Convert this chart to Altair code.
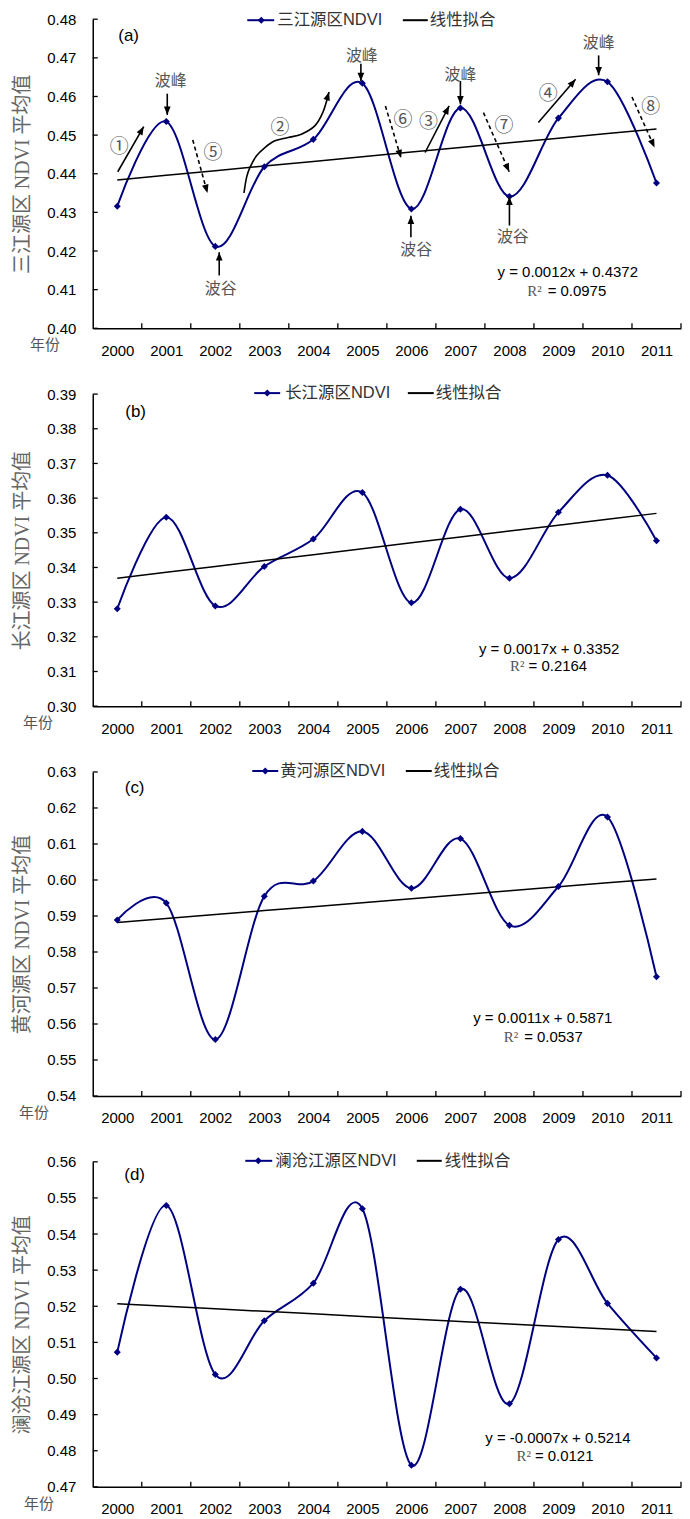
import math
import altair as alt
import pandas as pd

# ---------------- data ----------------
years = [2000, 2001, 2002, 2003, 2004, 2005, 2006, 2007, 2008, 2009, 2010, 2011]

ndvi_a = [0.4316, 0.4535, 0.4212, 0.4418, 0.4489, 0.4634, 0.4309, 0.4570, 0.4341, 0.4544, 0.4638, 0.4376]
ndvi_b = [0.3281, 0.3545, 0.3289, 0.3403, 0.3482, 0.3616, 0.3298, 0.3568, 0.3369, 0.3559, 0.3666, 0.3477]
ndvi_c = [0.5889, 0.5936, 0.5557, 0.5955, 0.5997, 0.6135, 0.5977, 0.6115, 0.5874, 0.5982, 0.6175, 0.5731]
ndvi_d = [0.5073, 0.5479, 0.5011, 0.5160, 0.5264, 0.5470, 0.4760, 0.5247, 0.4930, 0.5385, 0.5208, 0.5057]
series = [ndvi_a, ndvi_b, ndvi_c, ndvi_d]

series_names = ["三江源区NDVI", "长江源区NDVI", "黄河源区NDVI", "澜沧江源区NDVI"]
fit_name = "线性拟合"
panel_tags = ["(a)", "(b)", "(c)", "(d)"]
y_titles = ["三江源区 NDVI 平均值", "长江源区 NDVI 平均值", "黄河源区 NDVI 平均值", "澜沧江源区 NDVI 平均值"]
x_unit = "年份"

slopes = [0.0012, 0.0017, 0.0011, -0.0007]
intercepts = [0.4372, 0.3352, 0.5871, 0.5214]
eq_texts = ["y = 0.0012x + 0.4372", "y = 0.0017x + 0.3352", "y = 0.0011x + 0.5871", "y = -0.0007x + 0.5214"]
r2_label = "R²"
r2_values = ["= 0.0975", "= 0.2164", "= 0.0537", "= 0.0121"]

y_ranges = [(0.40, 0.48), (0.30, 0.39), (0.54, 0.63), (0.47, 0.56)]
tick_counts = [9, 10, 10, 10]

# equation anchors (year, value): equation centre, R² line "=" start
eq_pos = [(2009.19, 0.41453), (2008.81, 0.31639), (2008.68, 0.56160), (2008.99, 0.48353)]
r2_pos = [(2008.78, 0.40955), (2008.39, 0.31159), (2008.30, 0.55634), (2008.52, 0.47856)]

# panel (a) annotations (year, value)
peak_labels = [("波峰", 2001.09, 0.46400), ("波峰", 2004.99, 0.47045),
               ("波峰", 2007.00, 0.46555), ("波峰", 2009.82, 0.47373)]
valley_labels = [("波谷", 2002.11, 0.41025), ("波谷", 2006.10, 0.42031), ("波谷", 2008.07, 0.42356)]
circled_labels = [("①", 2000.04, 0.44697), ("⑤", 2001.95, 0.44534), ("②", 2003.32, 0.45195),
                  ("⑥", 2005.83, 0.45386), ("③", 2006.35, 0.45350), ("⑦", 2007.89, 0.45239),
                  ("④", 2008.79, 0.46057), ("⑧", 2010.88, 0.45729)]
arrows = [
    ("p1", "solid", [(2001.02, 0.46072), (2001.02, 0.45523)]),
    ("p2", "solid", [(2004.97, 0.46847), (2004.97, 0.46400)]),
    ("p3", "solid", [(2007.00, 0.46400), (2007.00, 0.45799)]),
    ("p4", "solid", [(2009.82, 0.47063), (2009.82, 0.46547)]),
    ("v1", "solid", [(2002.08, 0.41368), (2002.08, 0.41969)]),
    ("v2", "solid", [(2005.99, 0.42356), (2005.99, 0.42916)]),
    ("v3", "solid", [(2008.00, 0.42658), (2008.00, 0.43407)]),
    ("a1", "solid", [(2000.01, 0.44052), (2000.54, 0.45221)]),
    ("a5", "dashed", [(2001.54, 0.44877), (2001.84, 0.43502)]),
    ("a6", "dashed", [(2005.47, 0.45755), (2005.79, 0.44405)]),
    ("a3", "solid", [(2006.28, 0.44550), (2006.77, 0.45755)]),
    ("a7", "dashed", [(2007.47, 0.45582), (2007.995, 0.44052)]),
    ("a4", "solid", [(2008.59, 0.45324), (2009.35, 0.46444)]),
    ("a8", "dashed", [(2010.50, 0.45987), (2010.96, 0.44679)]),
    ("a2", "curve", [(2002.585, 0.43502), (2002.638, 0.43905), (2002.707, 0.44163),
                     (2002.841, 0.44465), (2003.012, 0.44679), (2003.216, 0.44852),
                     (2003.486, 0.44937), (2003.757, 0.45025), (2004.029, 0.45239),
                     (2004.198, 0.45600), (2004.320, 0.46116)]),
]

# ---------------- layout / style ----------------
BLUE = "#000080"
SANS = "Liberation Sans, Arial, sans-serif"
MIXED = "Liberation Sans, Noto Sans CJK SC, sans-serif"
TITLE_FONT = "Liberation Serif, Noto Sans CJK SC, serif"
CJK = "Noto Sans CJK SC, sans-serif"
W = 590
heights = [310, 313, 325, 326]
legend_layout = [
    dict(l1=(155, 182), d=169, t1=185, l2=(311, 336), t2=338, y=1),
    dict(l1=(162, 188), d=175, t1=193, l2=(316, 342), t2=344, y=-1),
    dict(l1=(160, 186), d=173, t1=188, l2=(314, 340), t2=342, y=-1),
    dict(l1=(153, 180), d=166, t1=183, l2=(325, 350), t2=353, y=-1),
]
tag_layout = [(36, 16.5), (43, 18), (42, 16), (42, 13.5)]
unit_layout = [-48, -55, -59, -54]
r2_dx = [-6, -4, -6, -4]
HEAD = "M0,0L0.8,2L-0.8,2Z"


def one(label):
    return alt.Chart(pd.DataFrame({"s": [label]}))


def panel(i):
    lo, hi = y_ranges[i]
    h = heights[i]
    ticks = [round(lo + 0.01 * k, 2) for k in range(tick_counts[i])]
    df = pd.DataFrame({"year": years, "ndvi": series[i],
                       "fit": [slopes[i] * (k + 1) + intercepts[i] for k in range(len(years))]})

    xaxis = alt.Axis(
        values=years, format="d", title=None, ticks=False, grid=False,
        labelPadding=15, labelFontSize=15, labelFont=SANS, labelColor="black",
        labelFlush=False, labelOverlap=False, domainColor="black", domainWidth=1.5)
    yaxis = alt.Axis(
        values=ticks, format=".2f", title=y_titles[i], ticks=False, grid=False,
        labelPadding=17, labelFontSize=15, labelFont=SANS, labelColor="black",
        labelFlush=False, labelOverlap=False, domainColor="black", domainWidth=1.5,
        titleX=-70, titleY=h / 2, titleAngle=270, titleBaseline="middle",
        titleAlign="center", titleFontSize=20, titleFont=TITLE_FONT,
        titleFontWeight="normal", titleColor="#666666")
    xsc = alt.Scale(domain=[1999.5, 2011.5], nice=False, zero=False)
    ysc = alt.Scale(domain=[lo, hi], nice=False, zero=False)
    X = lambda f: alt.X(f, scale=xsc, axis=xaxis, title=None)
    Y = lambda f: alt.Y(f, scale=ysc, axis=yaxis, title=y_titles[i])

    base = alt.Chart(df)
    curve = base.mark_line(interpolate="cardinal", color=BLUE, strokeWidth=2).encode(
        x=X("year:Q"), y=Y("ndvi:Q"))
    pts = base.mark_point(shape="diamond", filled=True, size=50, color=BLUE, opacity=1).encode(
        x=X("year:Q"), y=Y("ndvi:Q"))
    fit = base.mark_line(color="black", strokeWidth=1.5).encode(x=X("year:Q"), y=Y("fit:Q"))

    xt = alt.Chart(pd.DataFrame({"b": [y + 0.5 for y in years]})).mark_rule(
        color="black", strokeWidth=1.3).encode(x=X("b:Q"), y=alt.value(h), y2=alt.value(h - 5))
    yt = alt.Chart(pd.DataFrame({"t": ticks})).mark_rule(
        color="black", strokeWidth=1.3).encode(y=Y("t:Q"), x=alt.value(0), x2=alt.value(5))

    L = legend_layout[i]
    leg = [
        one(series_names[i]).mark_rule(color=BLUE, strokeWidth=2).encode(
            x=alt.value(L["l1"][0]), x2=alt.value(L["l1"][1]), y=alt.value(L["y"])),
        one(series_names[i]).mark_point(shape="diamond", filled=True, size=50, color=BLUE, opacity=1).encode(
            x=alt.value(L["d"]), y=alt.value(L["y"])),
        one(series_names[i]).mark_text(align="left", baseline="middle", fontSize=16.5, font=MIXED,
                                       color="#333333").encode(
            x=alt.value(L["t1"]), y=alt.value(L["y"]), text="s:N"),
        one(fit_name).mark_rule(color="black", strokeWidth=2).encode(
            x=alt.value(L["l2"][0]), x2=alt.value(L["l2"][1]), y=alt.value(L["y"])),
        one(fit_name).mark_text(align="left", baseline="middle", fontSize=16.5, font=MIXED,
                                color="#333333").encode(
            x=alt.value(L["t2"]), y=alt.value(L["y"]), text="s:N"),
    ]
    tag = one(panel_tags[i]).mark_text(align="center", baseline="middle", fontSize=17, font=SANS,
                                       color="black").encode(
        x=alt.value(tag_layout[i][0]), y=alt.value(tag_layout[i][1]), text="s:N")
    unit = one(x_unit).mark_text(align="center", baseline="middle", fontSize=15, font=CJK,
                                 color="#555555").encode(
        x=alt.value(unit_layout[i]), y=alt.value(h + 17), text="s:N")

    eq_df = pd.DataFrame({"x": [eq_pos[i][0]], "y": [eq_pos[i][1]], "s": [eq_texts[i]]})
    eq = alt.Chart(eq_df).mark_text(align="center", baseline="middle", fontSize=15, font=SANS,
                                    color="black").encode(x=X("x:Q"), y=Y("y:Q"), text="s:N")
    r_df = pd.DataFrame({"x": [r2_pos[i][0]], "y": [r2_pos[i][1]],
                         "s": [r2_values[i]], "r": [r2_label]})
    rv = alt.Chart(r_df).mark_text(align="left", baseline="middle", fontSize=15, font=SANS,
                                   color="black").encode(x=X("x:Q"), y=Y("y:Q"), text="s:N")
    rl = alt.Chart(r_df).mark_text(align="right", baseline="middle", fontSize=15, font="Liberation Serif, serif",
                                   color="#555555", dx=r2_dx[i]).encode(x=X("x:Q"), y=Y("y:Q"), text="r:N")

    layers = [curve, fit, pts, xt, yt] + leg + [tag, unit, eq, rv, rl]

    if i == 0:
        ppx = W / 12.0
        ppy = h / (hi - lo)
        rows, heads = [], []
        for aid, style, pl in arrows:
            for k, (ax, ay) in enumerate(pl):
                rows.append({"id": aid, "style": style, "o": k, "x": ax, "y": ay})
            (x0, y0), (x1, y1) = pl[-2], pl[-1]
            dx = (x1 - x0) * ppx
            dy = -(y1 - y0) * ppy
            heads.append({"x": x1, "y": y1, "ang": math.degrees(math.atan2(dx, -dy)) % 360})
        adf = pd.DataFrame(rows)
        hdf = pd.DataFrame(heads)
        a_solid = alt.Chart(adf).transform_filter("datum.style == 'solid'").mark_line(
            color="black", strokeWidth=1.6).encode(x=X("x:Q"), y=Y("y:Q"), detail="id:N", order="o:Q")
        a_dash = alt.Chart(adf).transform_filter("datum.style == 'dashed'").mark_line(
            color="black", strokeWidth=1.6, strokeDash=[4, 3]).encode(
            x=X("x:Q"), y=Y("y:Q"), detail="id:N", order="o:Q")
        a_curve = alt.Chart(adf).transform_filter("datum.style == 'curve'").mark_line(
            color="black", strokeWidth=1.6, interpolate="cardinal").encode(
            x=X("x:Q"), y=Y("y:Q"), detail="id:N", order="o:Q")
        a_head = alt.Chart(hdf).mark_point(shape=HEAD, filled=True, size=70, color="black",
                                           opacity=1).encode(
            x=X("x:Q"), y=Y("y:Q"), angle=alt.Angle("ang:Q", scale=None))
        tdf = pd.DataFrame([{"s": s, "x": x, "y": y} for s, x, y in peak_labels + valley_labels])
        cdf = pd.DataFrame([{"s": s, "x": x, "y": y} for s, x, y in circled_labels])
        t_lab = alt.Chart(tdf).mark_text(align="center", baseline="middle", fontSize=16, font=CJK,
                                         color="#555555").encode(x=X("x:Q"), y=Y("y:Q"), text="s:N")
        c_lab = alt.Chart(cdf).mark_text(align="center", baseline="middle", fontSize=19, font=CJK,
                                         color="#555555").encode(x=X("x:Q"), y=Y("y:Q"), text="s:N")
        layers += [a_solid, a_dash, a_curve, a_head, t_lab, c_lab]

    return alt.layer(*layers).properties(width=W, height=h)


chart = alt.vconcat(*[panel(i) for i in range(4)], spacing=27).properties(
    padding={"left": 5, "top": 2, "right": 0, "bottom": 0}
).configure_view(stroke=None)

chart.save("out.html", embed_options={"renderer": "svg", "actions": False})
